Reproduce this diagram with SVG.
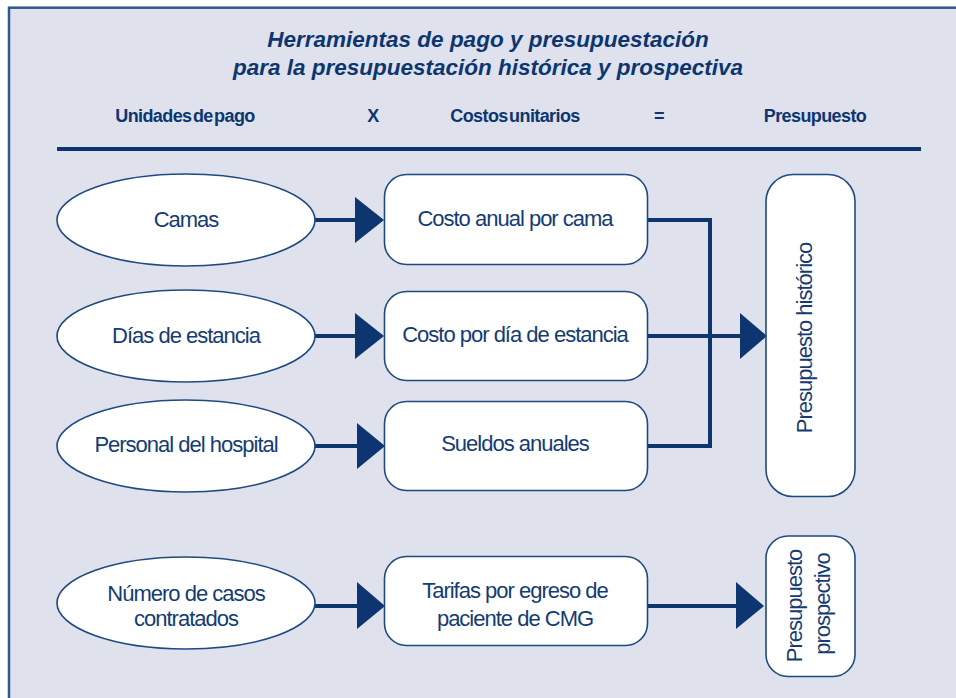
<svg xmlns="http://www.w3.org/2000/svg" width="956" height="698" viewBox="0 0 956 698">
<style>
  .frame { fill: #dfe1ed; stroke: #2f5a8c; stroke-width: 2.5; }
  .title { font-family: "Liberation Sans", Arial, sans-serif; font-size: 22.5px; font-weight: bold; font-style: italic; fill: #0d3670; text-anchor: middle; }
  .head { font-family: "Liberation Sans", Arial, sans-serif; font-size: 18px; font-weight: bold; fill: #0d3670; text-anchor: middle; letter-spacing: -0.6px; word-spacing: -3px; }
  .lbl { font-family: "Liberation Sans", Arial, sans-serif; font-size: 22px; fill: #143c73; text-anchor: middle; letter-spacing: -1px; }
  .node { fill: #ffffff; stroke: #1f4a80; stroke-width: 1.6; }
  .wire { fill: none; stroke: #0d3670; stroke-width: 4; }
  .head-tri { fill: #0d3670; }
</style>
<rect x="0" y="0" width="956" height="698" fill="#ffffff"/>
<rect class="frame" x="9" y="7.7" width="970" height="720"/>

<g id="title">
  <text class="title" x="488" y="47">Herramientas de pago y presupuestación</text>
  <text class="title" x="488" y="75">para la presupuestación histórica y prospectiva</text>
</g>
<g id="header">
  <text class="head" x="185" y="122">Unidades de pago</text>
  <text class="head" x="373" y="122">X</text>
  <text class="head" x="515" y="122">Costos unitarios</text>
  <text class="head" x="659" y="122">=</text>
  <text class="head" x="815" y="122">Presupuesto</text>
  <line x1="57" y1="149" x2="921" y2="149" stroke="#0d3670" stroke-width="4"/>
</g>

<g id="connectors">
  <line class="wire" x1="315" y1="220" x2="357" y2="220"/>
  <polygon class="head-tri" points="355,197 384,220 355,243"/>
  <line class="wire" x1="315" y1="336" x2="357" y2="336"/>
  <polygon class="head-tri" points="355,313 384,336 355,359"/>
  <line class="wire" x1="315" y1="446" x2="359" y2="446"/>
  <polygon class="head-tri" points="357,423 385,446 357,469"/>
  <line class="wire" x1="315" y1="606" x2="359" y2="606"/>
  <polygon class="head-tri" points="357,582 385,606 357,629"/>
  <polyline class="wire" points="647,220 710,220 710,446 647,446"/>
  <line class="wire" x1="647" y1="336" x2="742" y2="336"/>
  <polygon class="head-tri" points="740,313 767,336 740,359"/>
  <line class="wire" x1="647" y1="606" x2="738" y2="606"/>
  <polygon class="head-tri" points="736,582 764,606 736,629"/>
</g>

<g id="camas">
  <ellipse class="node" cx="186" cy="220" rx="129" ry="46"/>
  <text class="lbl" x="186" y="227">Camas</text>
</g>
<g id="dias">
  <ellipse class="node" cx="186" cy="336" rx="129" ry="46"/>
  <text class="lbl" x="186" y="343">Días de estancia</text>
</g>
<g id="personal">
  <ellipse class="node" cx="186" cy="446" rx="129" ry="46"/>
  <text class="lbl" x="186" y="452">Personal del hospital</text>
</g>
<g id="casos">
  <ellipse class="node" cx="186" cy="603" rx="129" ry="46"/>
  <text class="lbl" x="186" y="601">Número de casos</text>
  <text class="lbl" x="186" y="626">contratados</text>
</g>

<g id="costo-cama">
  <rect class="node" x="384.5" y="174.5" width="263" height="90" rx="22"/>
  <text class="lbl" x="515" y="226">Costo anual por cama</text>
</g>
<g id="costo-dia">
  <rect class="node" x="384.5" y="291.5" width="263" height="89" rx="22"/>
  <text class="lbl" x="515" y="342">Costo por día de estancia</text>
</g>
<g id="sueldos">
  <rect class="node" x="384.5" y="401.5" width="263" height="89" rx="22"/>
  <text class="lbl" x="515" y="451">Sueldos anuales</text>
</g>
<g id="tarifas">
  <rect class="node" x="384.5" y="556.5" width="263" height="89" rx="22"/>
  <text class="lbl" x="515" y="598">Tarifas por egreso de</text>
  <text class="lbl" x="515" y="626">paciente de CMG</text>
</g>

<g id="presupuesto-historico">
  <rect class="node" x="766" y="174.5" width="89" height="322" rx="27"/>
  <text class="lbl" transform="translate(812,338) rotate(-90)" x="0" y="0">Presupuesto histórico</text>
</g>
<g id="presupuesto-prospectivo">
  <rect class="node" x="766" y="536" width="89" height="140.5" rx="22"/>
  <text class="lbl" transform="translate(802,606) rotate(-90)" x="0" y="0">Presupuesto</text>
  <text class="lbl" transform="translate(830,604) rotate(-90)" x="0" y="0">prospectivo</text>
</g>
</svg>
